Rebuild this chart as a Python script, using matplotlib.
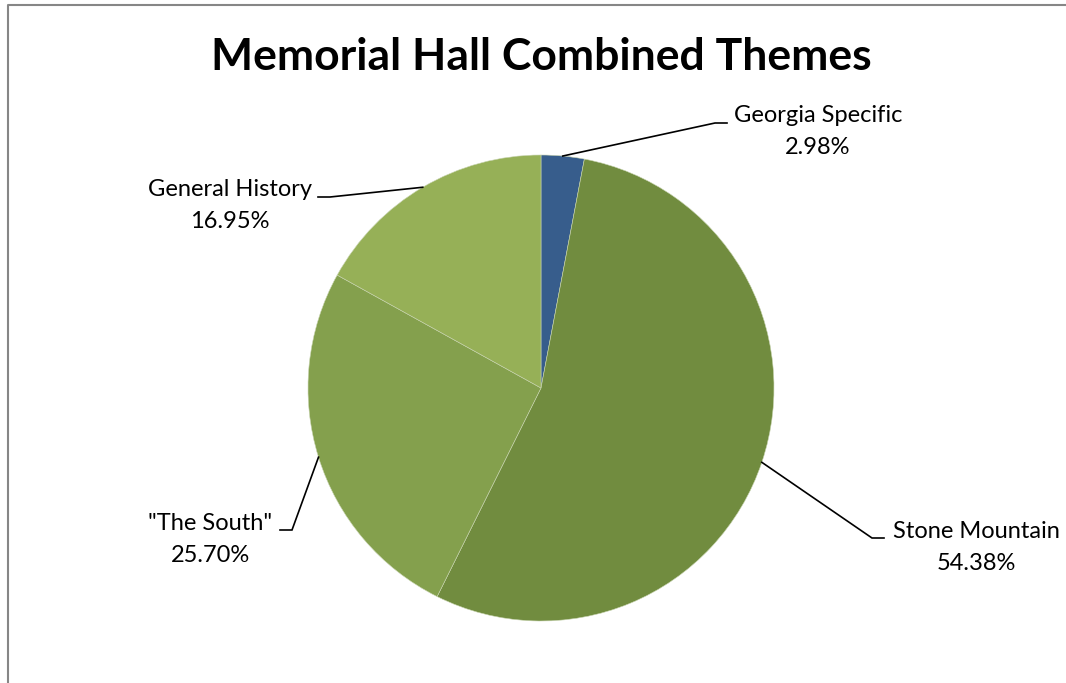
import numpy as np
import matplotlib
matplotlib.use("Agg")
import matplotlib.pyplot as plt
from matplotlib.lines import Line2D

# data
labels = ["Georgia Specific", "Stone Mountain", '"The South"', "General History"]
shares = [2.98, 54.38, 25.70, 16.95]
colors = ["#375D8C", "#718C3F", "#84A04D", "#96B057"]

W, H = 1066, 683
plt.rcParams['font.family'] = ['Lato', 'DejaVu Sans']

fig = plt.figure(figsize=(W / 100, H / 100), dpi=100)
ax = fig.add_axes([0, 0, 1, 1])

cx, cy, r = 541, H - 388, 233
wedges, _ = ax.pie(shares, colors=colors, startangle=90, counterclock=False,
                   center=(cx, cy), radius=r,
                   wedgeprops=dict(linewidth=0.4, edgecolor="#c8d4b0"))
ax.set_xlim(0, W)
ax.set_ylim(0, H)
ax.set_aspect("equal")
ax.axis("off")

# elbow of each leader line (pixels from top-left) and which side the text sits
elbows = [(715, 123), (872, 538), (292, 530), (330, 197)]
sides = [1, 1, -1, -1]
text_centres = [818, 976, 210, 230]

for w, lab, val, (ex, ey), s, tx in zip(wedges, labels, shares, elbows, sides, text_centres):
    ang = np.deg2rad((w.theta1 + w.theta2) / 2)
    px = cx + r * np.cos(ang)
    py = cy + r * np.sin(ang)
    ey = H - ey
    ax.plot([px, ex, ex + 12 * s], [py, ey, ey], color="black", lw=1.2,
            solid_joinstyle="miter")
    ax.text(tx, ey + 7, lab, ha="center", va="center", fontsize=17)
    ax.text(tx, ey - 25, f"{val:.2f}%", ha="center", va="center", fontsize=17)

ax.text(541, H - 57, "Memorial Hall Combined Themes", ha="center", va="center",
        fontsize=32, fontweight="bold")

# chart-area border: only the left and top edges are visible
fig.lines.append(Line2D([8 / W, 8 / W, 1.0], [0.0, (H - 5) / H, (H - 5) / H],
                        transform=fig.transFigure, color="#868686", lw=1.5))

fig.savefig("out.png", dpi=100)
